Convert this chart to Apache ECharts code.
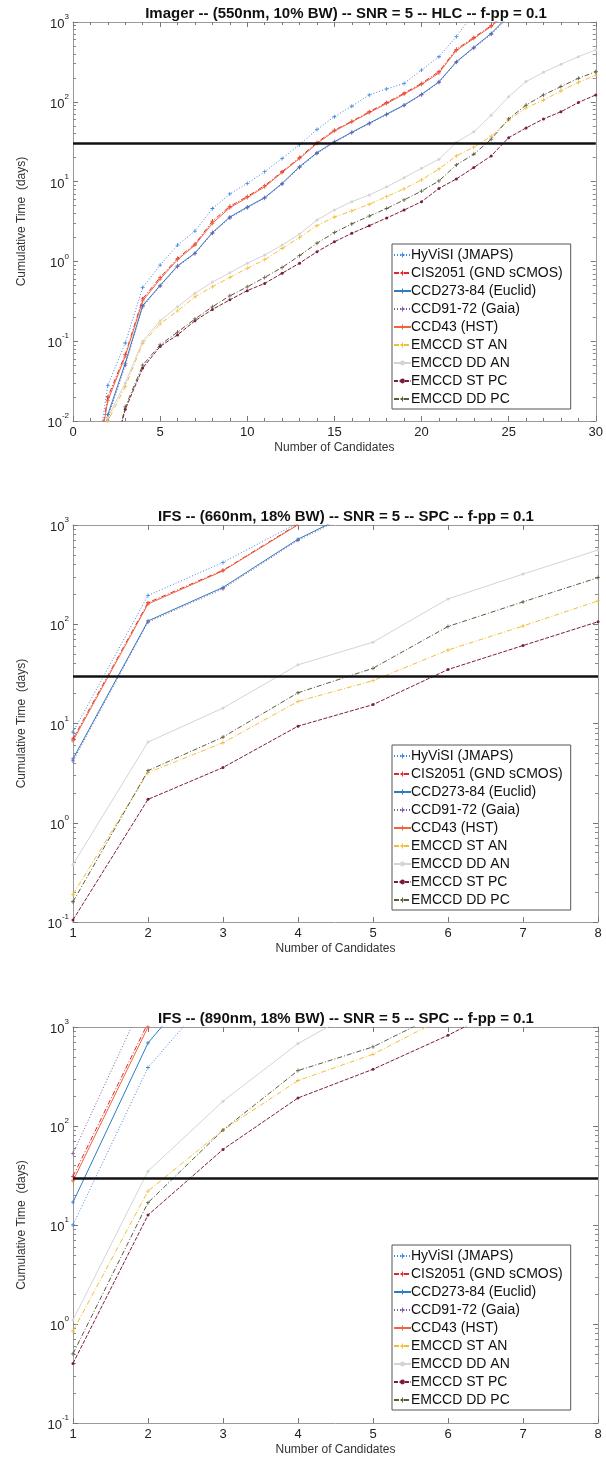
<!DOCTYPE html>
<html>
<head>
<meta charset="utf-8">
<script src="https://cdn.jsdelivr.net/npm/echarts@6/dist/echarts.min.js"></script>
<style>
  html, body { margin: 0; padding: 0; background: #fff; }
  #main { width: 606px; height: 1464px; }
</style>
</head>
<body>
<div id="main"></div>
<script>
// sensor names, same order in every panel
var sensors = ['HyViSI (JMAPS)', 'CIS2051 (GND sCMOS)', 'CCD273-84 (Euclid)', 'CCD91-72 (Gaia)',
  'CCD43 (HST)', 'EMCCD ST AN', 'EMCCD DD AN', 'EMCCD ST PC', 'EMCCD DD PC'];

var titles = [
  'Imager -- (550nm, 10% BW) -- SNR = 5 -- HLC -- f-pp = 0.1',
  'IFS -- (660nm, 18% BW) -- SNR = 5 -- SPC -- f-pp = 0.1',
  'IFS -- (890nm, 18% BW) -- SNR = 5 -- SPC -- f-pp = 0.1'
];

var cutoffDays = 30;

// panel 1 : imager, candidates 1..30
var candidates1 = [1, 2, 3, 4, 5, 6, 7, 8, 9, 10, 11, 12, 13, 14, 15, 16, 17, 18, 19, 20, 21, 22, 23, 24, 25, 26, 27, 28, 29, 30];
var hyvisi1 = [0.001, 0.028, 0.095, 0.47, 0.9, 1.6, 2.4, 4.6, 7, 9.5, 13.3, 19.5, 29, 45, 65, 88, 122, 145, 170, 250, 367, 655, 1300];
var cis1 = [0.001, 0.02, 0.068, 0.34, 0.63, 1.09, 1.65, 3.2, 4.9, 6.5, 8.9, 13.3, 20, 31, 44, 57, 75, 98, 128, 170, 239, 455, 640, 900, 1400];
var ccd273_1 = [0.0005, 0.012, 0.053, 0.28, 0.5, 0.88, 1.27, 2.3, 3.6, 4.8, 6.3, 9.5, 15.4, 23, 31.6, 41.5, 54, 70, 91, 124, 178, 318, 480, 720, 1200];
var ccd91_1 = [0.0005, 0.011, 0.05, 0.27, 0.49, 0.86, 1.25, 2.25, 3.5, 4.7, 6.2, 9.3, 15, 22.5, 31, 41, 53, 69, 90, 122, 175, 312, 470, 700, 1150];
var ccd43_1 = [0.001, 0.018, 0.065, 0.32, 0.6, 1.05, 1.6, 3.0, 4.7, 6.3, 8.6, 13, 19.5, 30, 43, 56, 73, 95, 125, 165, 230, 440, 620, 880, 1350];
var stan1 = [0.0005, 0.01, 0.027, 0.094, 0.165, 0.24, 0.36, 0.48, 0.63, 0.82, 1.05, 1.45, 2.0, 2.8, 3.6, 4.3, 5.2, 6.5, 8.1, 10.5, 14.4, 21, 27, 37, 59, 84, 105, 137, 175, 216];
var ddan1 = [0.0005, 0.011, 0.03, 0.1, 0.18, 0.27, 0.4, 0.55, 0.72, 0.95, 1.2, 1.6, 2.2, 3.3, 4.4, 5.6, 6.8, 8.6, 11.2, 14.7, 19, 31, 42, 68, 116, 179, 234, 295, 368, 446];
var stpc1 = [null, 0.002, 0.014, 0.046, 0.086, 0.12, 0.18, 0.25, 0.33, 0.43, 0.53, 0.71, 0.95, 1.32, 1.76, 2.25, 2.8, 3.5, 4.4, 5.6, 8.2, 10.8, 15, 21, 35.5, 47, 61, 75, 98, 122];
var ddpc1 = [null, 0.002, 0.015, 0.05, 0.09, 0.13, 0.19, 0.27, 0.37, 0.48, 0.63, 0.84, 1.18, 1.69, 2.3, 2.95, 3.7, 4.6, 5.9, 7.6, 10.2, 16.2, 22, 34, 61, 91, 122, 155, 197, 238];

// panel 2 : IFS 660nm, candidates 1..8
var candidates2 = [1, 2, 3, 4, 5, 6, 7, 8];
var hyvisi2 = [8.2, 195, 420, 1050];
var cis2 = [7.0, 165, 350, 1020];
var ccd273_2 = [4.4, 108, 235, 720, 1700];
var ccd91_2 = [4.2, 105, 228, 700, 1650];
var ccd43_2 = [6.7, 160, 345, 1005];
var stan2 = [0.19, 3.2, 6.4, 16.7, 27, 55, 96, 172];
var ddan2 = [0.38, 6.5, 14.3, 39, 66, 180, 320, 560];
var stpc2 = [0.105, 1.72, 3.6, 9.4, 15.5, 35, 61, 106];
var ddpc2 = [0.16, 3.35, 7.3, 20.4, 36, 95, 168, 295];

// panel 3 : IFS 890nm, candidates 1..8
var candidates3 = [1, 2, 3, 4, 5, 6, 7, 8];
var hyvisi3 = [10, 390, 2900];
var cis3 = [31, 1100];
var ccd273_3 = [17, 690, 5400];
var ccd91_3 = [53, 2300];
var ccd43_3 = [28, 1000];
var stan3 = [0.85, 22, 91, 288, 530, 1300];
var ddan3 = [1.1, 35, 178, 680, 1800];
var stpc3 = [0.4, 12.6, 58, 192, 374, 825, 2000];
var ddpc3 = [0.5, 16.8, 91, 363, 630, 1500];

var looks = [
  {color: '#3b86e0', type: [1, 2], symbol: 'plus'},
  {color: '#e3262c', type: [5, 2, 1, 2], symbol: 'plus'},
  {color: '#2a7cc4', type: 'solid', symbol: 'plus'},
  {color: '#7d5aa6', type: [1, 2], symbol: 'plus'},
  {color: '#f0643c', type: 'solid', symbol: 'plus'},
  {color: '#f2be3a', type: [5, 2, 1, 2], symbol: 'plus'},
  {color: '#d4d4d4', type: 'solid', symbol: 'dot'},
  {color: '#7b1d3f', type: [4, 1.5], symbol: 'dot'},
  {color: '#5b5a3c', type: [5, 2, 1, 2], symbol: 'plus'}
];
var plusPath = 'path://M4,0h2v4h4v2h-4v4h-2v-4h-4v-2h4z';

var panels = [
  {x: candidates1, sets: [hyvisi1, cis1, ccd273_1, ccd91_1, ccd43_1, stan1, ddan1, stpc1, ddpc1],
   xmin: 0, xmax: 30, xstep: 5, minor: true, ymin: 0.01, ymax: 1000, top: 22, height: 399, legendTop: 244},
  {x: candidates2, sets: [hyvisi2, cis2, ccd273_2, ccd91_2, ccd43_2, stan2, ddan2, stpc2, ddpc2],
   xmin: 1, xmax: 8, xstep: 1, minor: false, ymin: 0.1, ymax: 1000, top: 525, height: 397, legendTop: 745},
  {x: candidates3, sets: [hyvisi3, cis3, ccd273_3, ccd91_3, ccd43_3, stan3, ddan3, stpc3, ddpc3],
   xmin: 1, xmax: 8, xstep: 1, minor: false, ymin: 0.1, ymax: 1000, top: 1027, height: 396, legendTop: 1245}
];

var font = '"Liberation Sans", Arial, Helvetica, sans-serif';
var axisCol = '#9a9a9a';

function minorValues(lo, hi) {
  var out = [];
  for (var d = Math.round(Math.log10(lo)); d < Math.round(Math.log10(hi)); d++) {
    for (var m = 2; m <= 9; m++) out.push(m * Math.pow(10, d));
  }
  return out;
}

var grid = [], xAxis = [], yAxis = [], series = [], title = [], legend = [];

panels.forEach(function (p, i) {
  grid.push({left: 73, width: 525, top: p.top, height: p.height});
  title.push({
    text: titles[i], left: 341, textAlign: 'center', top: p.top - 21,
    textStyle: {fontFamily: font, fontSize: 15, fontWeight: 'bold', color: '#111'}
  });
  legend.push({
    data: sensors, orient: 'vertical', left: 392, top: p.legendTop,
    backgroundColor: '#fff', borderColor: '#555', borderWidth: 1,
    padding: [4, 8, 3, 1], itemWidth: 17, itemHeight: 6, itemGap: 4,
    textStyle: {fontFamily: font, fontSize: 14, color: '#111', padding: [0, 0, 0, -5]}
  });

  var xBase = {
    type: 'value', gridIndex: i, min: p.xmin, max: p.xmax, interval: p.xstep,
    splitLine: {show: false},
    axisLine: {show: true, onZero: false, lineStyle: {color: axisCol}},
    axisTick: {inside: true, length: 5, lineStyle: {color: '#777'}},
    minorTick: {show: p.minor, splitNumber: 5, length: 3, lineStyle: {color: '#777'}}
  };
  xAxis.push(Object.assign({}, xBase, {
    position: 'bottom',
    axisLabel: {margin: 5, fontFamily: font, fontSize: 13, color: '#222'},
    name: 'Number of Candidates', nameLocation: 'middle', nameGap: 21,
    nameTextStyle: {fontFamily: font, fontSize: 12, color: '#333'}
  }));
  xAxis.push(Object.assign({}, xBase, {position: 'top', axisLabel: {show: false}}));

  var yBase = {
    type: 'log', logBase: 10, gridIndex: i, min: p.ymin, max: p.ymax,
    splitLine: {show: false}, axisLabel: {show: false}
  };
  var minors = minorValues(p.ymin, p.ymax);
  yAxis.push(Object.assign({}, yBase, {
    position: 'left',
    axisLine: {show: true, lineStyle: {color: axisCol}},
    axisTick: {inside: true, length: 5, lineStyle: {color: '#777'}},
    axisLabel: {
      show: true, margin: 4,
      formatter: function (v) {
        return '{b|10}{s|' + Math.round(Math.log10(v)) + '}';
      },
      rich: {
        b: {fontFamily: font, fontSize: 13, color: '#222', lineHeight: 18, verticalAlign: 'bottom'},
        s: {fontFamily: font, fontSize: 8, color: '#222', lineHeight: 8, verticalAlign: 'top'}
      }
    },
    name: 'Cumulative Time  (days)', nameLocation: 'middle', nameGap: 45, nameRotate: 90,
    nameTextStyle: {fontFamily: font, fontSize: 12, color: '#333'}
  }));
  yAxis.push(Object.assign({}, yBase, {
    position: 'left', axisLine: {show: false},
    axisTick: {inside: true, length: 3, customValues: minors, lineStyle: {color: '#888'}}
  }));
  yAxis.push(Object.assign({}, yBase, {
    position: 'right',
    axisLine: {show: true, lineStyle: {color: axisCol}},
    axisTick: {inside: true, length: 5, lineStyle: {color: '#777'}}
  }));
  yAxis.push(Object.assign({}, yBase, {
    position: 'right', axisLine: {show: false},
    axisTick: {inside: true, length: 3, customValues: minors, lineStyle: {color: '#888'}}
  }));

  p.sets.forEach(function (vals, k) {
    var look = looks[k];
    var pts = [];
    vals.forEach(function (v, j) { if (v != null) pts.push([p.x[j], v]); });
    var s = {
      type: 'line', name: sensors[k], xAxisIndex: i * 2, yAxisIndex: i * 4,
      data: pts, clip: true, animation: false,
      symbol: look.symbol === 'plus' ? plusPath : 'circle',
      symbolSize: look.symbol === 'plus' ? 4 : 3,
      lineStyle: {color: look.color, width: 1, type: look.type},
      itemStyle: {color: look.color}
    };
    if (k === 0) {
      s.markLine = {
        silent: true, symbol: 'none', animation: false, z: 10,
        label: {show: false},
        lineStyle: {color: '#111', width: 2.5, type: 'solid'},
        data: [{yAxis: cutoffDays}]
      };
    }
    series.push(s);
  });
});

var chart = echarts.init(document.getElementById('main'));
chart.setOption({
  backgroundColor: '#fff',
  animation: false,
  title: title,
  legend: legend,
  grid: grid,
  xAxis: xAxis,
  yAxis: yAxis,
  series: series
});
</script>
</body>
</html>
